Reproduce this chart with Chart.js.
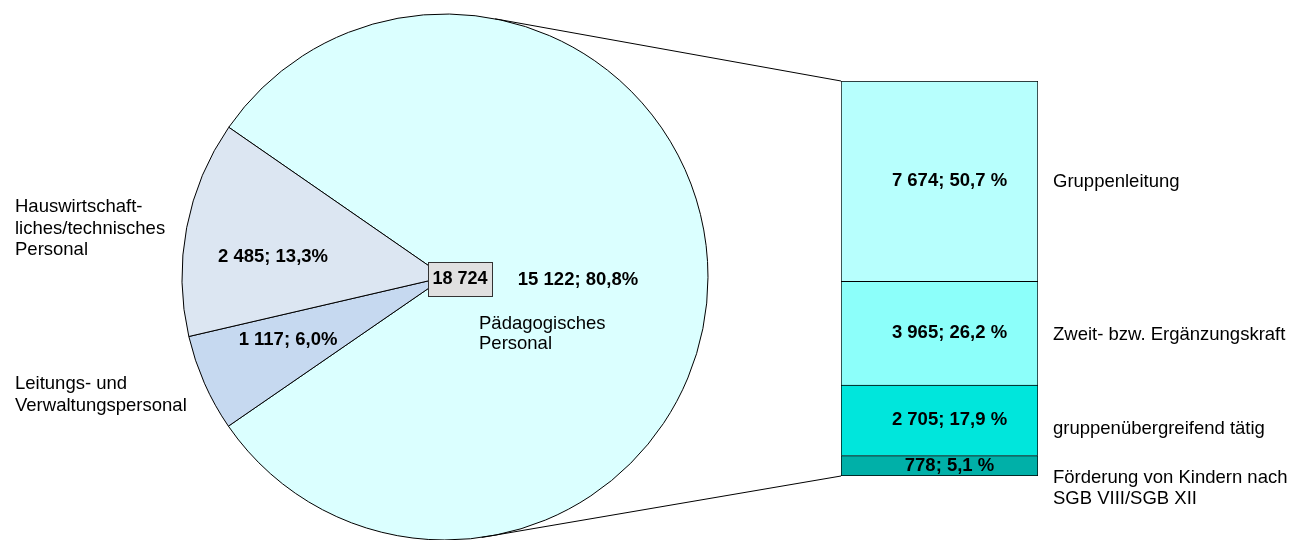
<!DOCTYPE html>
<html lang="de">
<head>
<meta charset="utf-8">
<title>Personal in Kindertageseinrichtungen</title>
<script src="https://cdn.jsdelivr.net/npm/chart.js@4.4.1/dist/chart.umd.min.js"></script>
<style>
  body { margin: 0; background: #fff; }
  .wrap { position: absolute; left: 0; top: 0; width: 1293px; height: 540px; }
</style>
</head>
<body>
<div class="wrap"><canvas id="pie"></canvas></div>
<div class="wrap"><canvas id="bar"></canvas></div>
<script>
// pie: all staff (clockwise from the upper left)
const pieLabels = [['Pädagogisches', 'Personal'], ['Leitungs- und', 'Verwaltungspersonal'], ['Hauswirtschaft-', 'liches/technisches', 'Personal']];
const pieValues = [15122, 1117, 2485];
const pieColors = ['#dbffff', '#c6d9f0', '#dce6f2'];

// bar: pedagogic staff split, bottom to top
const barLabels = [['Förderung von Kindern nach', 'SGB VIII/SGB XII'], ['gruppenübergreifend tätig'], ['Zweit- bzw. Ergänzungskraft'], ['Gruppenleitung']];
const barValues = [778, 2705, 3965, 7674];
const barColors = ['#00b0a8', '#00e6dc', '#8cfffa', '#b7fffd'];

const FONT = '"Liberation Sans", Arial, sans-serif';
const SIZE = '18.5px ';
Chart.defaults.font.family = FONT;

function fmt(n) {
  return String(n).replace(/\B(?=(\d{3})+(?!\d))/g, ' ');
}
function pct(v, total) {
  return (v / total * 100).toFixed(1).replace('.', ',');
}
function sum(a) {
  return a.reduce((s, v) => s + v, 0);
}

function lines(ctx, txt, x, y, lh) {
  txt.forEach((t, k) => ctx.fillText(t, x, y + k * lh));
}

const pieText = {
  id: 'pieText',
  afterDatasetsDraw(chart) {
    const ctx = chart.ctx;
    const arcs = chart.getDatasetMeta(0).data;
    const cx = arcs[0].x, cy = arcs[0].y;
    const total = sum(pieValues);
    // value labels, offset from pie centre
    const off = [[133, 3], [-157, 63], [-172, -20]];
    ctx.save();
    ctx.fillStyle = '#000';
    ctx.textBaseline = 'middle';
    ctx.textAlign = 'center';
    ctx.font = 'bold ' + SIZE + FONT;
    pieValues.forEach((v, i) => {
      ctx.fillText(fmt(v) + '; ' + pct(v, total) + '%', cx + off[i][0], cy + off[i][1]);
    });

    // total box
    ctx.fillStyle = '#e0e0e0';
    ctx.strokeStyle = '#333';
    ctx.lineWidth = 1;
    ctx.fillRect(cx - 17, cy - 15, 64, 34);
    ctx.strokeRect(cx - 16.5, cy - 14.5, 64, 34);
    ctx.fillStyle = '#000';
    ctx.font = 'bold 18px ' + FONT;
    ctx.fillText(fmt(total), cx + 15, cy + 2);

    // category names
    ctx.font = SIZE + FONT;
    ctx.textAlign = 'left';
    lines(ctx, pieLabels[0], cx + 34, cy + 47, 20);
    lines(ctx, pieLabels[1], 15, 384, 21.5);
    lines(ctx, pieLabels[2], 15, 207, 21.5);
    ctx.restore();
  }
};

const pieChart = new Chart(document.getElementById('pie'), {
  type: 'pie',
  data: {
    labels: pieLabels.map(l => l.join(' ')),
    datasets: [{
      data: pieValues,
      backgroundColor: pieColors,
      borderColor: '#000',
      borderWidth: 1
    }]
  },
  options: {
    responsive: true,
    maintainAspectRatio: false,
    animation: false,
    events: [],
    rotation: 304.7,
    radius: 263,
    layout: { padding: { left: 0, right: 403, top: 14, bottom: 0 } },
    plugins: { legend: { display: false }, tooltip: { enabled: false } }
  },
  plugins: [pieText]
});

const barText = {
  id: 'barText',
  afterDatasetsDraw(chart) {
    const ctx = chart.ctx;
    const total = sum(barValues);
    const shift = [12, 9, 2, 1];
    ctx.save();
    ctx.fillStyle = '#000';
    ctx.textBaseline = 'middle';
    barValues.forEach((v, i) => {
      const b = chart.getDatasetMeta(i).data[0];
      const mid = (b.y + b.base) / 2;
      ctx.font = 'bold ' + SIZE + FONT;
      ctx.textAlign = 'center';
      ctx.fillText(fmt(v) + '; ' + pct(v, total) + ' %', b.x + 10, mid);
      ctx.font = SIZE + FONT;
      ctx.textAlign = 'left';
      lines(ctx, barLabels[i], b.x + b.width / 2 + 15, mid + shift[i], 21);
    });

    // connector lines from the pie to the bar
    const arc = pieChart.getDatasetMeta(0).data[0];
    const R = arc.outerRadius;
    const low = chart.getDatasetMeta(0).data[0];
    const top = chart.getDatasetMeta(barValues.length - 1).data[0];
    const left = low.x - low.width / 2;
    const a1 = -79 * Math.PI / 180, a2 = 82 * Math.PI / 180;
    ctx.strokeStyle = '#000';
    ctx.lineWidth = 1;
    ctx.beginPath();
    ctx.moveTo(arc.x + R * Math.cos(a1), arc.y + R * Math.sin(a1));
    ctx.lineTo(left, top.y);
    ctx.moveTo(arc.x + R * Math.cos(a2), arc.y + R * Math.sin(a2));
    ctx.lineTo(left, low.base);
    ctx.stroke();
    ctx.restore();
  }
};

new Chart(document.getElementById('bar'), {
  type: 'bar',
  data: {
    labels: [''],
    datasets: barValues.map((v, i) => ({
      label: barLabels[i].join(' '),
      data: [v],
      backgroundColor: barColors[i],
      borderColor: '#000',
      borderWidth: { top: 1, left: 1, right: 1, bottom: i === 0 ? 1 : 0 },
      borderSkipped: false,
      categoryPercentage: 1,
      barPercentage: 1
    }))
  },
  options: {
    responsive: true,
    maintainAspectRatio: false,
    animation: false,
    events: [],
    layout: { padding: { left: 841, right: 255, top: 81, bottom: 64 } },
    scales: {
      x: { display: false, stacked: true },
      y: { display: false, stacked: true, min: 0, max: sum(barValues) }
    },
    plugins: { legend: { display: false }, tooltip: { enabled: false } }
  },
  plugins: [barText]
});
</script>
</body>
</html>
